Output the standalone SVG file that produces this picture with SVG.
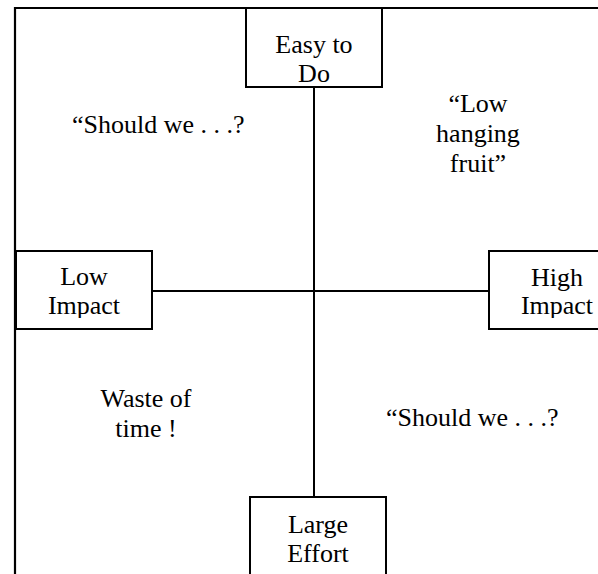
<svg xmlns="http://www.w3.org/2000/svg" width="598" height="574" viewBox="0 0 598 574">
<style>
.box{fill:#fff;stroke:#000;stroke-width:2}
.ln{stroke:#000;stroke-width:2;fill:none}
.frame{stroke:#000;stroke-width:2.2;fill:none}
.t{font-size:26px;fill:#000}
.c{text-anchor:middle}
</style>
<defs>
<clipPath id="clipL"><rect x="15" y="251" width="137" height="67"/></clipPath>
<clipPath id="clipR"><rect x="489" y="251" width="137" height="67"/></clipPath>
</defs>
<rect width="598" height="574" fill="#fff"/>
<g id="frame">
<path class="frame" d="M15 574 V8 H598"/>
</g>
<g id="connectors">
<line class="ln" x1="314" y1="87" x2="314" y2="497"/>
<line class="ln" x1="152" y1="291" x2="489" y2="291"/>
</g>
<g font-family="Liberation Serif">
<g id="easy">
<rect class="box" x="246" y="8" width="136" height="79"/>
<text class="t c" x="314" y="53">Easy to</text>
<text class="t c" x="314" y="82">Do</text>
</g>
<g id="low">
<rect class="box" x="16" y="251" width="136" height="78"/>
<text class="t c" x="84" y="285">Low</text>
<text class="t c" x="84" y="314" clip-path="url(#clipL)">Impact</text>
</g>
<g id="high">
<rect class="box" x="489" y="251" width="137" height="78"/>
<text class="t c" x="557" y="286">High</text>
<text class="t c" x="557" y="314" clip-path="url(#clipR)">Impact</text>
</g>
<g id="effort">
<rect class="box" x="250" y="497" width="136" height="90"/>
<text class="t c" x="318" y="533">Large</text>
<text class="t c" x="318" y="562">Effort</text>
</g>
<g id="labels">
<text class="t" x="72" y="133">“Should we . . .?</text>
<text class="t c" x="478" y="112">“Low</text>
<text class="t c" x="478" y="142">hanging</text>
<text class="t c" x="478" y="172">fruit”</text>
<text class="t c" x="146" y="407">Waste of</text>
<text class="t c" x="146" y="437">time !</text>
<text class="t" x="386" y="426">“Should we . . .?</text>
</g>
</g>
</svg>
